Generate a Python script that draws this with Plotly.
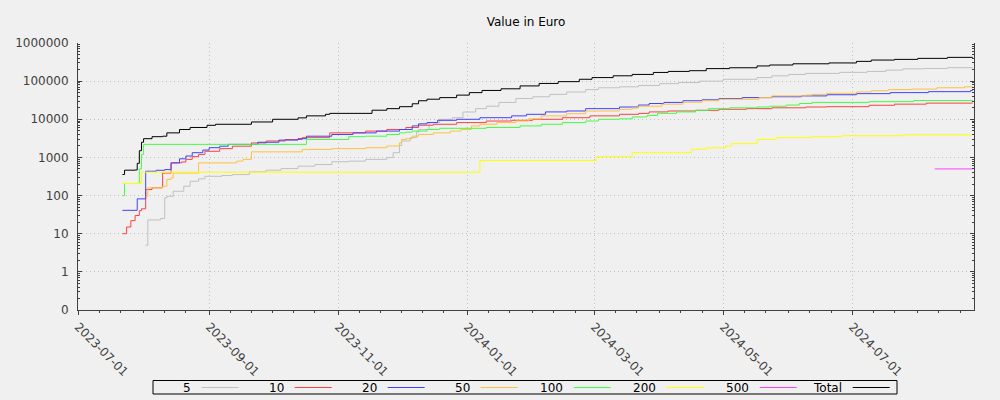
import plotly.graph_objects as go
import pandas as pd

# ---------------- data ----------------
names = ["5", "10", "20", "50", "100", "200", "500", "Total"]
colors = ["#c0c0c0", "#ff4040", "#4040ff", "#ffc040", "#40ff40", "#ffff00", "#ff40ff", "#000000"]

d5 = ["2023-08-02", "2023-08-03", "2023-08-09", "2023-08-11", "2023-08-12", "2023-08-15", "2023-08-20",
      "2023-08-23", "2023-08-27", "2023-08-30", "2023-09-07", "2023-09-12", "2023-09-20", "2023-09-28",
      "2023-10-05", "2023-10-13", "2023-10-21", "2023-10-29", "2023-11-06", "2023-11-14", "2023-11-24",
      "2023-11-27", "2023-11-30", "2023-12-01", "2023-12-05", "2023-12-08", "2023-12-09", "2023-12-14",
      "2023-12-19", "2023-12-25", "2023-12-30", "2024-01-05", "2024-01-10", "2024-01-16", "2024-01-24",
      "2024-02-01", "2024-02-09", "2024-02-17", "2024-02-26", "2024-03-03", "2024-03-13", "2024-03-22",
      "2024-04-01", "2024-04-10", "2024-04-20", "2024-05-01", "2024-05-17", "2024-05-24", "2024-06-01",
      "2024-06-09", "2024-06-25", "2024-07-08", "2024-07-17", "2024-07-25", "2024-08-04", "2024-08-15",
      "2024-08-27"]
v5 = [5, 23, 25, 87, 96, 130, 176, 237, 275, 320, 335, 355, 420, 463, 510, 590, 650, 770, 800, 890, 990,
      1330, 2060, 2700, 3300, 4600, 5400, 8200, 10000, 11000, 15500, 19000, 22000, 27700, 35000, 39000,
      45000, 52000, 60000, 67000, 71000, 77000, 86000, 92000, 100000, 112000, 124000, 138000, 150000,
      160000, 170000, 180000, 195000, 210000, 215000, 225000, 225000]

d10 = ["2023-07-22", "2023-07-24", "2023-07-26", "2023-07-28", "2023-07-30", "2023-07-31", "2023-08-02",
       "2023-08-05", "2023-08-10", "2023-08-14", "2023-08-19", "2023-08-21", "2023-08-24", "2023-08-27",
       "2023-08-30", "2023-09-06", "2023-09-12", "2023-09-21", "2023-09-28", "2023-10-07", "2023-10-15",
       "2023-10-28", "2023-11-14", "2023-11-24", "2023-12-03", "2023-12-09", "2023-12-16", "2023-12-27",
       "2024-01-10", "2024-01-22", "2024-02-01", "2024-02-15", "2024-02-28", "2024-03-13", "2024-03-22",
       "2024-03-27", "2024-04-05", "2024-04-18", "2024-04-29", "2024-05-12", "2024-05-24", "2024-06-09",
       "2024-06-19", "2024-07-09", "2024-07-21", "2024-08-05", "2024-08-27"]
v10 = [10, 15, 22, 30, 40, 45, 144, 160, 390, 720, 760, 890, 1050, 1200, 1450, 1700, 1970, 2400, 2700,
       2950, 3300, 4400, 4900, 5400, 6100, 7000, 7400, 8200, 9000, 9400, 10000, 11000, 12300, 13500,
       14300, 15600, 16500, 17200, 18300, 19000, 20000, 21000, 21400, 23300, 24900, 26500, 26500]

d20 = ["2023-07-22", "2023-07-29", "2023-08-02", "2023-08-07", "2023-08-11", "2023-08-14", "2023-08-18",
       "2023-08-21", "2023-08-24", "2023-08-29", "2023-09-01", "2023-09-06", "2023-09-10", "2023-09-24",
       "2023-10-04", "2023-10-13", "2023-10-17", "2023-10-29", "2023-11-08", "2023-11-19", "2023-11-30",
       "2023-12-06", "2023-12-09", "2023-12-13", "2023-12-18", "2023-12-27", "2024-01-07", "2024-01-22",
       "2024-01-29", "2024-02-07", "2024-02-17", "2024-02-26", "2024-03-13", "2024-03-22", "2024-03-27",
       "2024-04-03", "2024-04-12", "2024-04-21", "2024-04-29", "2024-05-10", "2024-05-24", "2024-06-07",
       "2024-06-19", "2024-07-03", "2024-07-19", "2024-08-06", "2024-08-26", "2024-08-27"]
v20 = [41, 82, 435, 460, 480, 720, 920, 1090, 1330, 1560, 1800, 1970, 2200, 2500, 2850, 3100, 3600, 4000,
       4400, 4900, 5400, 6700, 7600, 8200, 9400, 10000, 11000, 12300, 13500, 15600, 16500, 19000, 21000,
       23600, 25900, 27700, 30600, 32400, 35000, 37000, 39000, 41000, 44000, 47000, 50000, 53000, 57000,
       57000]

d50 = ["2023-08-02", "2023-08-03", "2023-08-10", "2023-08-12", "2023-08-14", "2023-08-15", "2023-08-27",
       "2023-09-14", "2023-09-17", "2023-09-21", "2023-10-15", "2023-10-29", "2023-11-14", "2023-11-24",
       "2023-11-30", "2023-12-01", "2023-12-03", "2023-12-06", "2023-12-09", "2023-12-16", "2023-12-24",
       "2023-12-29", "2024-01-03", "2024-01-07", "2024-01-15", "2024-01-24", "2024-01-30", "2024-02-05",
       "2024-02-17", "2024-02-26", "2024-03-13", "2024-03-19", "2024-03-22", "2024-04-02", "2024-04-12",
       "2024-04-21", "2024-04-29", "2024-05-18", "2024-05-24", "2024-06-09", "2024-06-12", "2024-06-19",
       "2024-07-03", "2024-07-10", "2024-07-18", "2024-07-29", "2024-08-10", "2024-08-23", "2024-08-27"]
v50 = [96, 160, 176, 265, 290, 390, 720, 800, 890, 1400, 1620, 1700, 1800, 2000, 2400, 2950, 3100, 3600,
       4000, 4400, 4900, 5400, 6700, 7400, 8200, 9000, 10300, 12300, 14000, 16500, 18300, 19800, 22000,
       24900, 28000, 30600, 33600, 37000, 41000, 43000, 45000, 48000, 52000, 56000, 60000, 62000, 67000,
       71000, 71000]

d100 = ["2023-07-22", "2023-07-23", "2023-07-30", "2023-07-31", "2023-08-01", "2023-10-17", "2023-11-06",
        "2023-11-14", "2023-11-24", "2023-11-30", "2023-12-03", "2023-12-06", "2023-12-13", "2023-12-19",
        "2024-01-10", "2024-01-26", "2024-02-05", "2024-02-15", "2024-02-26", "2024-03-03", "2024-03-13",
        "2024-03-19", "2024-03-26", "2024-03-31", "2024-04-09", "2024-04-18", "2024-04-24", "2024-05-04",
        "2024-05-17", "2024-05-23", "2024-05-31", "2024-06-06", "2024-06-12", "2024-07-09", "2024-07-30",
        "2024-08-27"]
v100 = [100, 207, 500, 1200, 2200, 2950, 3500, 3600, 4000, 4400, 4600, 4900, 5400, 5800, 6100, 6700, 7400,
        8200, 9000, 10000, 10300, 11500, 12600, 14300, 15600, 17200, 19000, 20000, 21000, 22000, 23600,
        25900, 27700, 29000, 31000, 31000]

d200 = ["2023-07-22", "2023-07-31", "2024-01-07", "2024-03-02", "2024-03-19", "2024-04-16", "2024-04-23",
        "2024-05-02", "2024-05-05", "2024-05-17", "2024-05-26", "2024-06-12", "2024-06-26", "2024-07-25",
        "2024-08-27"]
v200 = [207, 410, 830, 1050, 1330, 1620, 1780, 1970, 2300, 2950, 3300, 3500, 3700, 3900, 3900]

d500 = ["2024-08-09", "2024-08-27"]
v500 = [500, 500]

dTotal = ["2023-07-22", "2023-07-23", "2023-07-28", "2023-07-29", "2023-07-30", "2023-07-31", "2023-08-01",
          "2023-08-05", "2023-08-10", "2023-08-12", "2023-08-18", "2023-08-23", "2023-08-31", "2023-09-04",
          "2023-09-21", "2023-10-01", "2023-10-13", "2023-10-17", "2023-10-26", "2023-10-28", "2023-11-17",
          "2023-11-24", "2023-11-30", "2023-12-06", "2023-12-09", "2023-12-13", "2023-12-19", "2023-12-27",
          "2024-01-02", "2024-01-08", "2024-01-17", "2024-01-26", "2024-02-04", "2024-02-13", "2024-02-23",
          "2024-02-29", "2024-03-10", "2024-03-19", "2024-03-29", "2024-04-05", "2024-04-15", "2024-04-23",
          "2024-05-04", "2024-05-17", "2024-05-23", "2024-06-03", "2024-06-20", "2024-07-03", "2024-07-10",
          "2024-07-21", "2024-08-01", "2024-08-15", "2024-08-27"]
vTotal = [357, 463, 470, 700, 1500, 2500, 3100, 3500, 3600, 4400, 5400, 6100, 6950, 7400, 8500, 10000,
          10900, 12300, 13500, 14300, 17300, 19000, 21400, 25500, 30600, 33600, 37000, 43000, 50000, 57000,
          63000, 75000, 87000, 97000, 112000, 124000, 138000, 150000, 169000, 180000, 188000, 213000,
          224000, 250000, 265000, 285000, 300000, 330000, 357000, 372000, 395000, 420000, 420000]

series_dates = [d5, d10, d20, d50, d100, d200, d500, dTotal]
series_values = [v5, v10, v20, v50, v100, v200, v500, vTotal]

y_tickvals = [0.1, 1, 10, 100, 1000, 10000, 100000, 1000000]
y_ticktext = ["0", "1", "10", "100", "1000", "10000", "100000", "1000000"]

title_text = "Value in Euro"

# ---------------- figure ----------------
W, H = 1000, 400
L, R, T, B = 78, 974, 43, 310
FONT = "DejaVu Sans"
BG = "#f0f0f0"
GRID_DASH = "1px,3px"

fig = go.Figure()
for name, col, ds, vs in zip(names, colors, series_dates, series_values):
    fig.add_trace(go.Scatter(x=ds, y=vs, mode="lines", name=name,
                             line=dict(color=col, width=1, shape="hv"),
                             showlegend=False, hoverinfo="x+y+name"))

# minor ticks
y_minor = [m * 10 ** e for e in range(-1, 6) for m in range(2, 10)]
x_minor = []
for ms in pd.date_range("2023-07-01", "2024-08-01", freq="MS"):
    for dd in (1, 11, 21):
        x_minor.append((ms + pd.Timedelta(days=dd - 1)).strftime("%Y-%m-%d"))

fig.update_layout(
    width=W, height=H,
    margin=dict(l=L, r=W - R, t=T, b=H - B, pad=0, autoexpand=False),
    paper_bgcolor=BG, plot_bgcolor=BG,
    font=dict(family=FONT, size=12, color="#404040"),
    title=dict(text=title_text, x=(L + R) / 2 / W, xref="container", xanchor="center",
               y=1 - 22 / H, yref="container", yanchor="middle",
               font=dict(family=FONT, size=12, color="#000000")),
    showlegend=False,
)

fig.update_xaxes(
    type="date", range=["2023-07-01", "2024-08-27 14:00"], automargin=False,
    tickmode="linear", tick0="2023-07-01", dtick="M2", tickformat="%Y-%m-%d",
    tickangle=45, ticks="outside", ticklen=4, tickcolor="#404040",
    showline=True, linecolor="#404040", linewidth=1, mirror=False,
    showgrid=True, gridcolor="#c0c0c0", griddash=GRID_DASH, gridwidth=1,
    zeroline=False,
    minor=dict(tickmode="array", tickvals=x_minor, ticks="outside", ticklen=2,
               tickcolor="#404040", showgrid=False),
    tickfont=dict(family=FONT, size=12, color="#404040"),
)

fig.update_yaxes(
    type="log", range=[-1, 6], automargin=False,
    tickmode="array", tickvals=y_tickvals, ticktext=y_ticktext,
    ticks="inside", ticklen=4, tickcolor="#404040",
    showline=True, linecolor="#404040", linewidth=1, mirror="allticks",
    showgrid=True, gridcolor="#c0c0c0", griddash=GRID_DASH, gridwidth=1,
    zeroline=False, ticklabelstandoff=6,
    minor=dict(tickmode="array", tickvals=y_minor, ticks="inside", ticklen=2,
               tickcolor="#404040", showgrid=False),
    tickfont=dict(family=FONT, size=12, color="#404040"),
)

# ---------------- custom legend (text then line sample, boxed) ----------------
def px_x(p):
    return (p - L) / (R - L)

def px_y(p):
    return (B - p) / (B - T)

fig.add_shape(type="rect", xref="paper", yref="paper",
              x0=px_x(153), x1=px_x(897), y0=px_y(380.5), y1=px_y(394),
              line=dict(color="#000000", width=1), fillcolor="rgba(0,0,0,0)", layer="above")
ly = 387.5
for i, (name, col) in enumerate(zip(names, colors)):
    lx0 = 201.7 + 93 * i
    lx1 = lx0 + 37
    fig.add_shape(type="line", xref="paper", yref="paper",
                  x0=px_x(lx0), x1=px_x(lx1), y0=px_y(ly), y1=px_y(ly),
                  line=dict(color=col, width=1), layer="above")
    fig.add_annotation(xref="paper", yref="paper", x=px_x(lx0 - 9), y=px_y(ly),
                       text=name, showarrow=False, xanchor="right", yanchor="middle",
                       font=dict(family=FONT, size=12, color="#000000"))

fig.write_html(
    "out.html",
    config={"displayModeBar": False},
    post_script="document.body.style.margin='0px';document.body.style.background='#f0f0f0';",
)
